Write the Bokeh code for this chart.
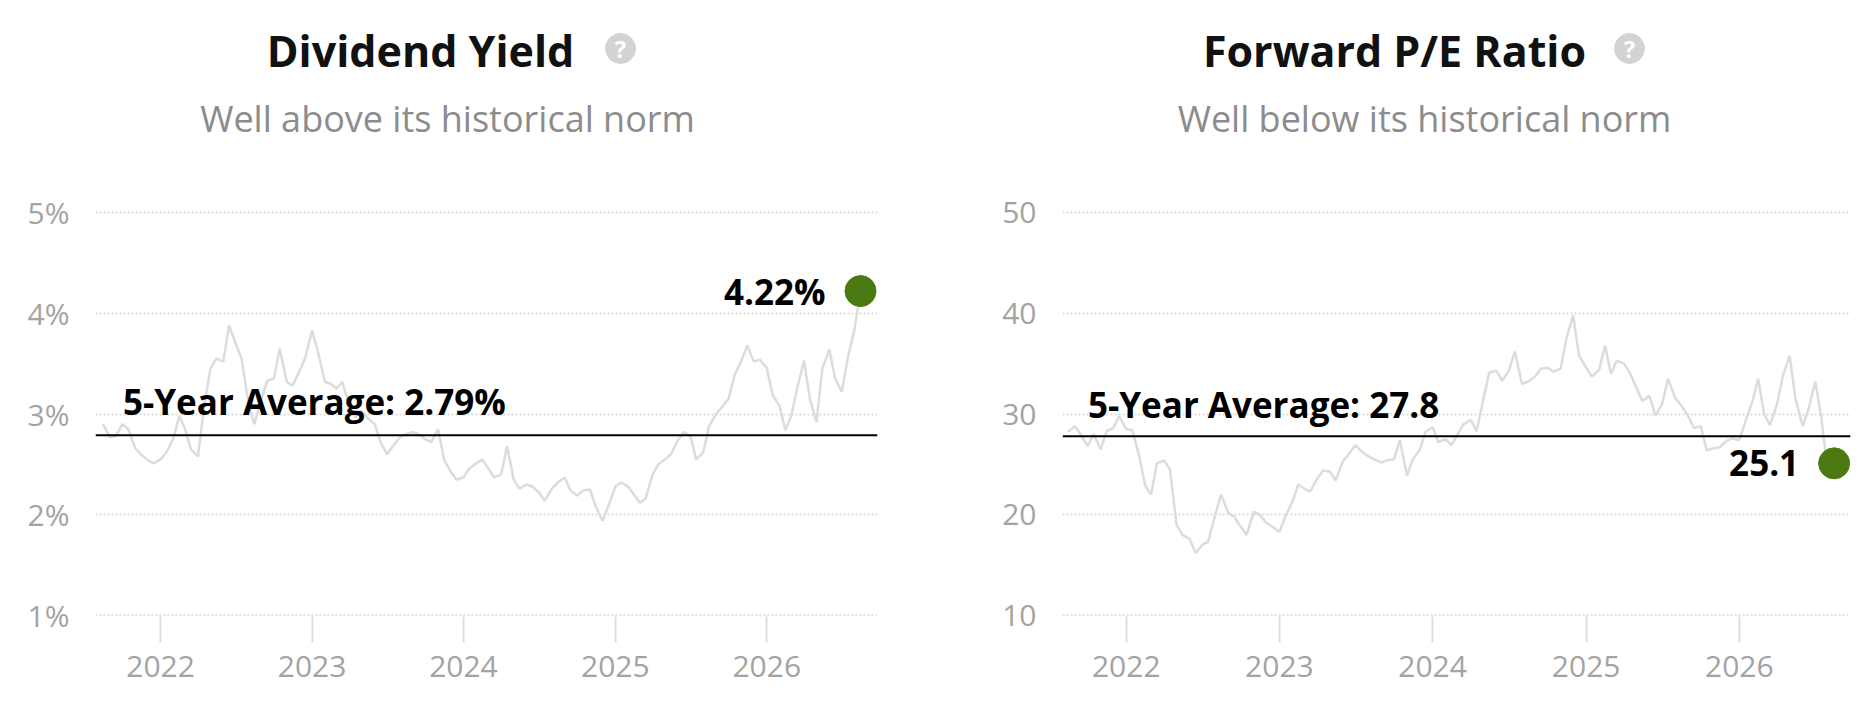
import pandas as pd
from bokeh.plotting import figure
from bokeh.models import Label, Span, FixedTicker, DatetimeTickFormatter, Range1d
from bokeh.layouts import row
from bokeh.embed import file_html
from bokeh.resources import INLINE

# ---------------- data ----------------
dates = pd.date_range("2021-08-15", "2026-08-15", freq="SMS")  # 1st and 15th of each month

div_yield = [
    2.90, 2.77, 2.78, 2.90, 2.85, 2.66, 2.60, 2.54, 2.51,
    2.55, 2.62, 2.76, 2.98, 2.85, 2.65, 2.58, 3.05, 3.45, 3.55, 3.52, 3.88,
    3.70, 3.55, 3.10, 2.90, 3.15, 3.33, 3.35, 3.65, 3.32, 3.28, 3.42, 3.55,
    3.83, 3.62, 3.32, 3.30, 3.25, 3.32, 3.08, 2.97, 3.03, 2.96, 2.90, 2.72,
    2.60, 2.68, 2.77, 2.80, 2.82, 2.80, 2.75, 2.72, 2.85, 2.55, 2.43, 2.35,
    2.37, 2.46, 2.51, 2.55, 2.46, 2.37, 2.40, 2.68, 2.35, 2.26, 2.30, 2.28,
    2.22, 2.14, 2.26, 2.32, 2.37, 2.24, 2.19, 2.24, 2.25, 2.08, 1.94, 2.08,
    2.28, 2.32, 2.28, 2.20, 2.12, 2.16, 2.40, 2.50, 2.55, 2.60, 2.74, 2.82,
    2.78, 2.55, 2.62, 2.88, 3.00, 3.07, 3.15, 3.38, 3.53, 3.68, 3.52, 3.54,
    3.46, 3.19, 3.08, 2.84, 2.98, 3.25, 3.53, 3.15, 2.92, 3.45, 3.64, 3.35,
    3.22, 3.55, 3.85, 4.22,
]

fwd_pe = [
    28.2, 28.8, 27.9, 26.8, 28.0, 26.5, 28.3, 28.6, 29.8,
    28.5, 28.4, 25.8, 22.9, 22.0, 25.1, 25.4, 24.5, 19.0, 18.0, 17.6, 16.2,
    17.0, 17.3, 20.0, 22.0, 20.2, 19.8, 18.8, 18.0, 20.3, 20.0, 19.2, 18.8,
    18.3, 19.8, 21.3, 23.0, 22.6, 22.3, 23.6, 24.4, 24.3, 23.4, 25.3, 26.0,
    26.9, 26.3, 25.8, 25.5, 25.2, 25.4, 25.5, 27.4, 23.9, 25.5, 26.4, 28.2,
    28.7, 27.2, 27.5, 26.9, 28.0, 29.0, 29.4, 28.3, 31.5, 34.1, 34.3, 33.3,
    34.3, 36.2, 33.0, 33.2, 33.7, 34.5, 34.6, 34.2, 34.5, 37.5, 39.8, 35.8,
    34.6, 33.7, 34.4, 36.8, 34.0, 35.3, 35.0, 34.1, 32.6, 31.3, 31.8, 29.8,
    31.0, 33.5, 31.6, 30.9, 29.8, 28.6, 28.8, 26.4, 26.6, 26.7, 27.3, 27.6,
    27.4, 29.2, 31.2, 33.5, 30.0, 28.9, 31.0, 33.8, 35.8, 31.5, 28.8, 30.5,
    33.2, 29.8, 24.0, 25.1,
]

div_avg = 2.79
pe_avg = 27.8

year_ticks = [2022, 2023, 2024, 2025, 2026]
div_ticks = [1, 2, 3, 4, 5]
div_tick_labels = ["1%", "2%", "3%", "4%", "5%"]
pe_ticks = [10, 20, 30, 40, 50]
pe_tick_labels = ["10", "20", "30", "40", "50"]

# ---------------- styling ----------------
FONT = "Open Sans"
LINE_COLOR = "#dcdcdc"
DOT_COLOR = "#4b7a12"
AXIS_TEXT = "#a3a3a3"
ICON_COLOR = "#d3d3d3"

FRAME_H = 616       # frame spans from the page top down to the lowest grid line
GRID_SPAN_PX = 403  # pixels between lowest and highest grid line
TOP_PX = 212        # pixels from frame top to the highest grid line


def make_panel(title, subtitle, values, avg, avg_text, val_text, yticks, ylabels,
               x_start, x_end, frame_w, border_l, border_r,
               title_x, icon_x, sub_x, avg_dy):
    upp = (yticks[-1] - yticks[0]) / GRID_SPAN_PX  # data units per pixel
    p = figure(
        x_axis_type="datetime",
        frame_width=frame_w, frame_height=FRAME_H,
        min_border_left=border_l, min_border_right=border_r,
        min_border_top=0, min_border_bottom=94,
        x_range=Range1d(pd.Timestamp(x_start), pd.Timestamp(x_end)),
        y_range=Range1d(yticks[0] - upp, yticks[-1] + TOP_PX * upp),
        toolbar_location=None, output_backend="svg",
        background_fill_color="white", border_fill_color="white",
        outline_line_color=None,
    )
    # pixel-space ranges for the header decoration
    p.extra_x_ranges = {"px": Range1d(0, frame_w)}
    p.extra_y_ranges = {"px": Range1d(0, FRAME_H)}

    # grid
    p.xgrid.visible = False
    yt = FixedTicker(ticks=yticks)
    p.ygrid.ticker = yt
    p.ygrid.grid_line_color = "#dddddd"
    p.ygrid.grid_line_width = 2
    p.ygrid.grid_line_dash = "2 2"

    # y axis
    p.yaxis.ticker = yt
    p.yaxis.major_label_overrides = {t: l for t, l in zip(yticks, ylabels)}
    p.yaxis.axis_line_color = None
    p.yaxis.major_tick_line_color = None
    p.yaxis.minor_tick_line_color = None
    p.yaxis.major_tick_out = 0
    p.yaxis.major_tick_in = 0
    p.yaxis.major_label_standoff = 26
    p.yaxis.major_label_text_font = FONT
    p.yaxis.major_label_text_font_size = "30px"
    p.yaxis.major_label_text_color = AXIS_TEXT

    # x axis
    xt = [pd.Timestamp(f"{y}-01-01").value // 10**6 for y in year_ticks]
    p.xaxis.ticker = FixedTicker(ticks=xt)
    p.xaxis.formatter = DatetimeTickFormatter(
        years="%Y", months="%Y", days="%Y", hours="%Y", hourmin="%Y",
        minutes="%Y", minsec="%Y", seconds="%Y", milliseconds="%Y",
        microseconds="%Y")
    p.xaxis.axis_line_color = None
    p.xaxis.minor_tick_line_color = None
    p.xaxis.major_tick_out = 26
    p.xaxis.major_tick_in = 0
    p.xaxis.major_tick_line_color = "#dedede"
    p.xaxis.major_tick_line_width = 2
    p.xaxis.major_label_standoff = 13
    p.xaxis.major_label_text_font = FONT
    p.xaxis.major_label_text_font_size = "30px"
    p.xaxis.major_label_text_color = AXIS_TEXT

    # series
    p.line(dates, values, line_color=LINE_COLOR, line_width=2.5)

    # average line and label
    p.add_layout(Span(location=avg, dimension="width", line_color="black",
                      line_width=2))
    p.add_layout(Label(x=dates[0], y=avg, x_offset=20, y_offset=avg_dy, text=avg_text,
                       text_font=FONT, text_font_size="35px",
                       text_font_style="bold", text_color="black",
                       text_baseline="middle", text_align="left"))

    # current value
    p.scatter([dates[-1]], [values[-1]], size=31, fill_color=DOT_COLOR,
              line_color=DOT_COLOR)
    p.add_layout(Label(x=dates[-1], y=values[-1], x_offset=-35, text=val_text,
                       text_font=FONT, text_font_size="35px",
                       text_font_style="bold", text_color="black",
                       text_baseline="middle", text_align="right"))

    # header: title, help icon, subtitle (pixel positions inside the frame)
    p.add_layout(Label(x=title_x, y=FRAME_H - 50, x_units="screen", y_units="screen",
                       text=title, text_font=FONT, text_font_size="43px",
                       text_font_style="bold", text_color="#111111",
                       text_align="center", text_baseline="middle"))
    p.scatter([icon_x], [FRAME_H - 48], size=30, fill_color=ICON_COLOR,
              line_color=ICON_COLOR, x_range_name="px", y_range_name="px")
    p.add_layout(Label(x=icon_x, y=FRAME_H - 48, x_units="screen", y_units="screen",
                       text="?", text_font=FONT, text_font_size="24px",
                       text_font_style="bold", text_color="white",
                       text_align="center", text_baseline="middle"))
    p.add_layout(Label(x=sub_x, y=FRAME_H - 118, x_units="screen", y_units="screen",
                       text=subtitle, text_font=FONT, text_font_size="36px",
                       text_color="#8c8c8c",
                       text_align="center", text_baseline="middle"))
    return p


p1 = make_panel("Dividend Yield", "Well above its historical norm", div_yield,
                div_avg, f"5-Year Average: {div_avg:.2f}%", f"{div_yield[-1]:.2f}%",
                div_ticks, div_tick_labels,
                "2021-07-28", "2026-09-25", 782, 95, 11,
                325, 525, 352, 34)
p2 = make_panel("Forward P/E Ratio", "Well below its historical norm", fwd_pe,
                pe_avg, f"5-Year Average: {pe_avg:.1f}", f"{fwd_pe[-1]:.1f}",
                pe_ticks, pe_tick_labels,
                "2021-08-02", "2026-09-23", 788, 174, 4,
                332, 567, 362, 32)

layout = row(p1, p2, spacing=0)
open("out.html", "w").write(file_html(layout, INLINE))
